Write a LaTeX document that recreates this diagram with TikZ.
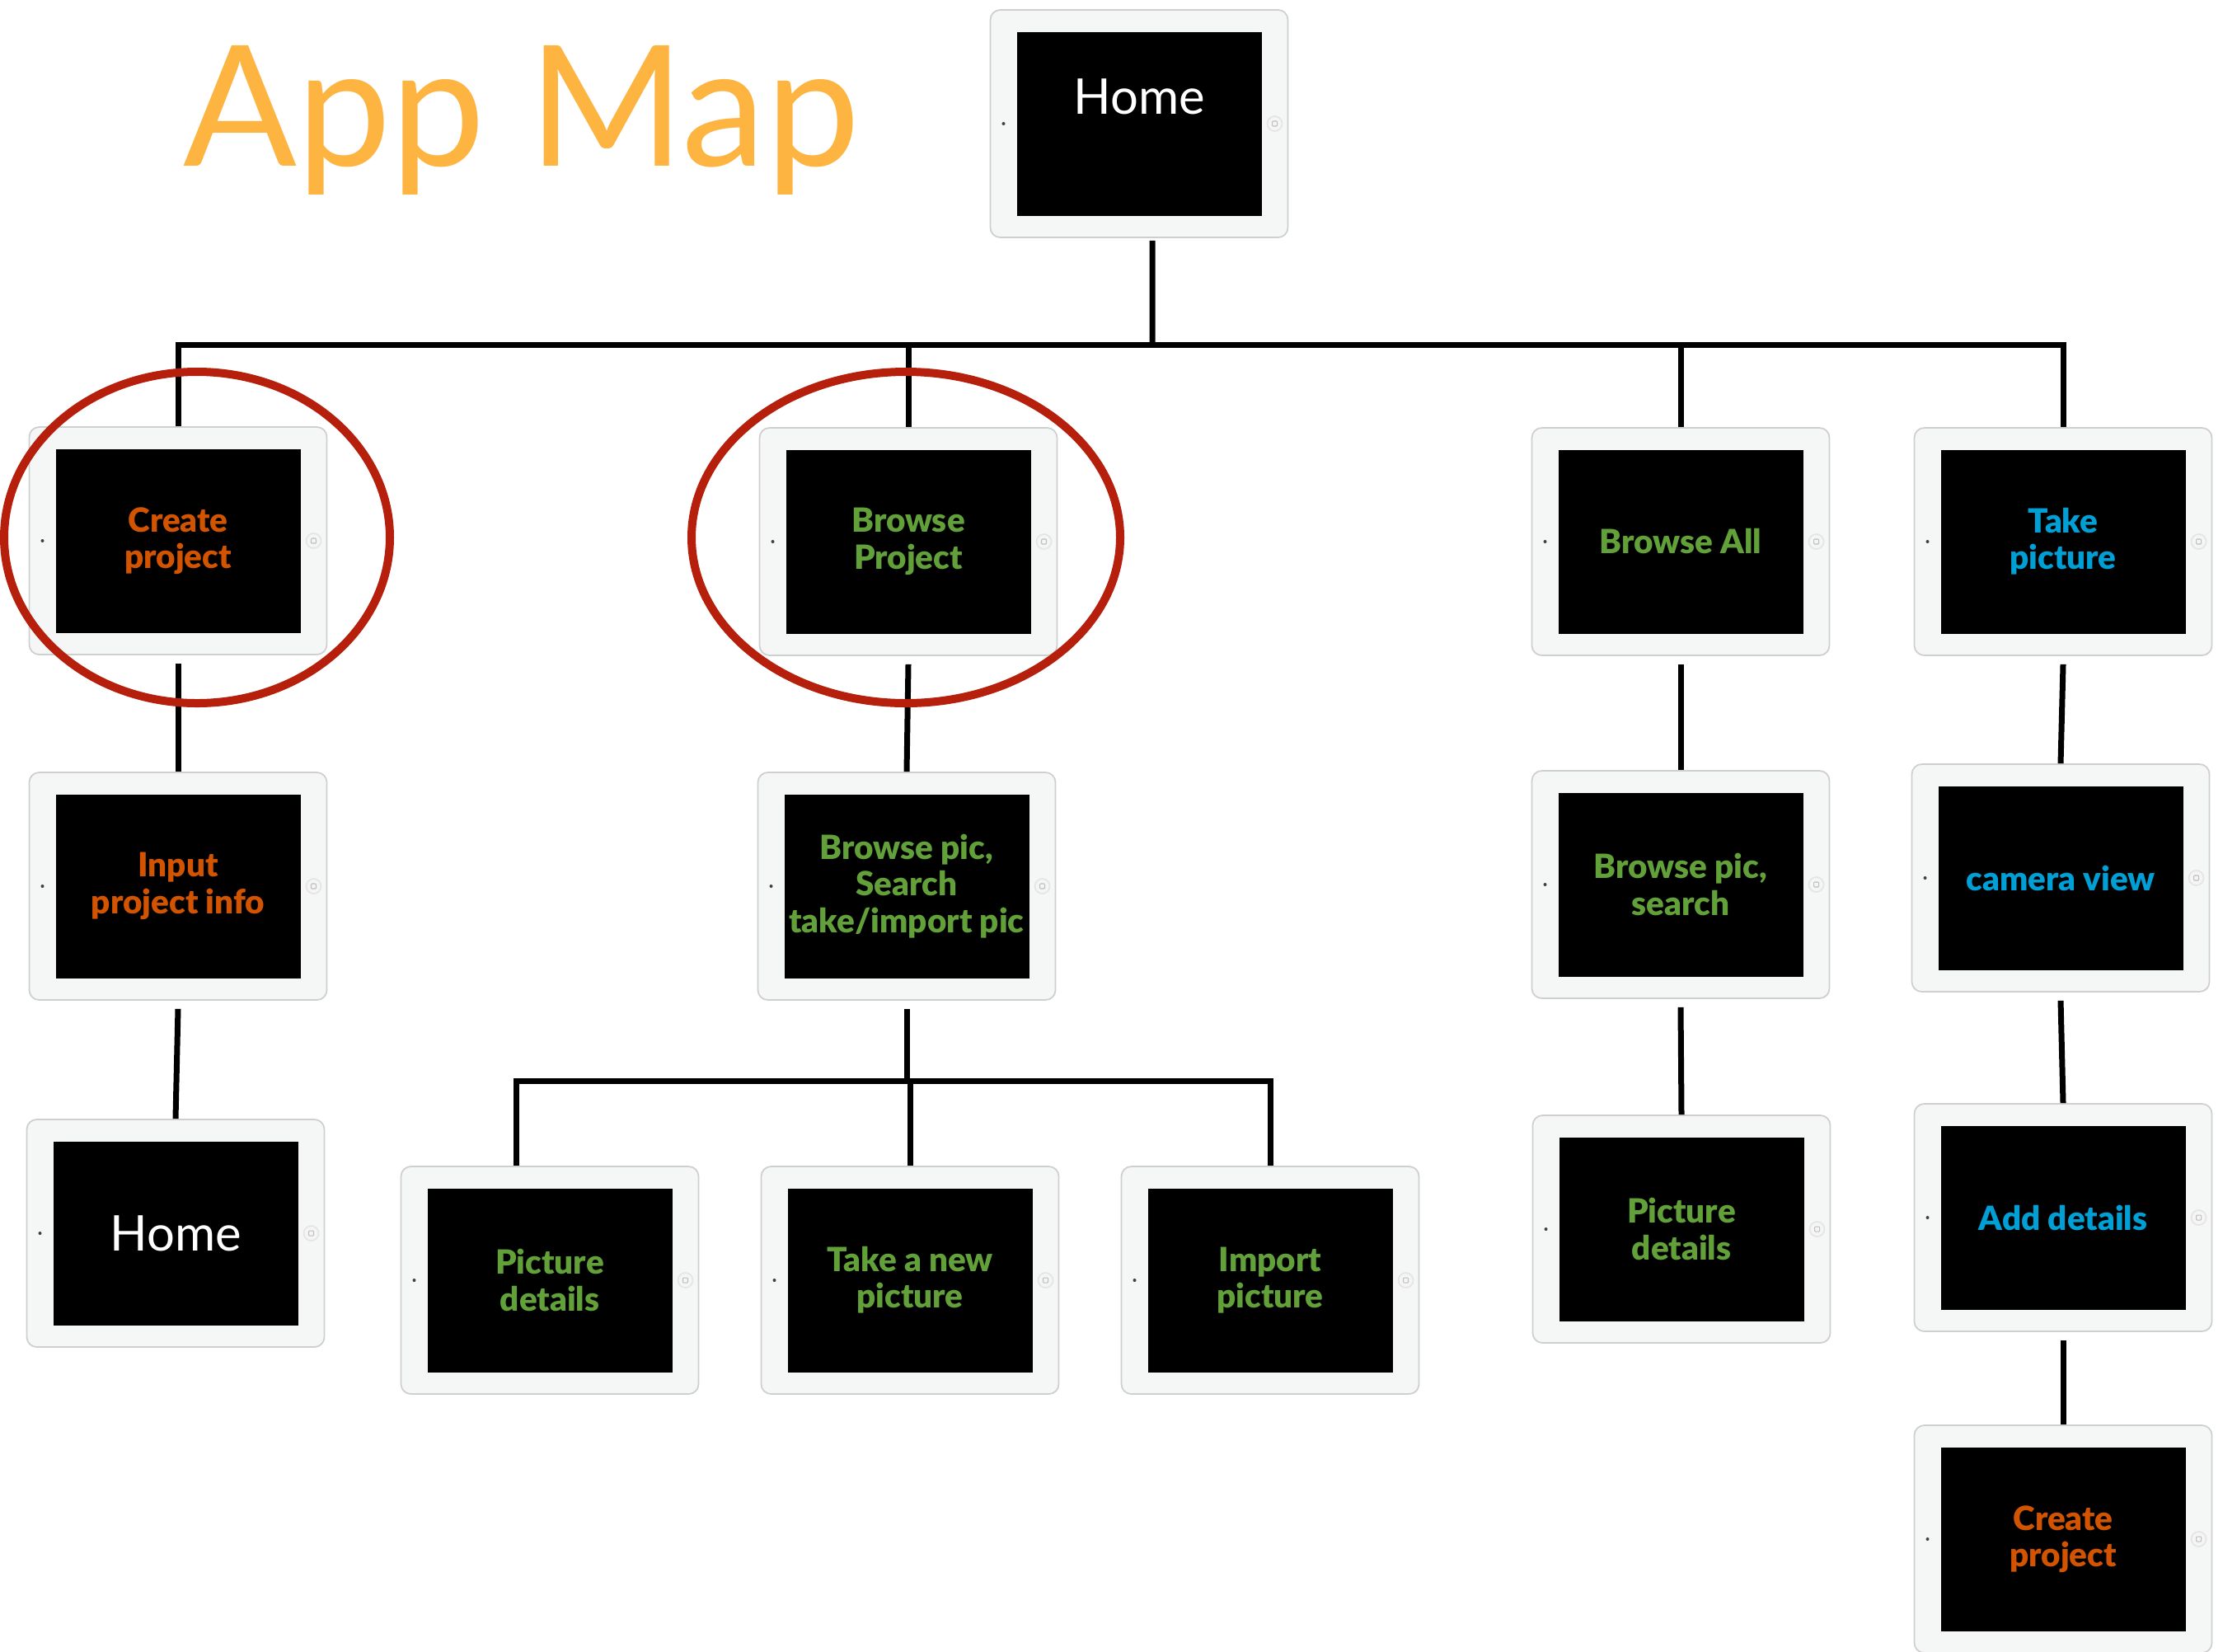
\documentclass[tikz,border=0pt]{standalone}
\usepackage{fontspec}
\setmainfont{Lato}[BoldFont={Lato Black}]
\usetikzlibrary{backgrounds}

\definecolor{frameGrey}{HTML}{F5F6F6}
\definecolor{edgeGrey}{HTML}{CFCFCF}
\definecolor{txtOrange}{HTML}{D35400}
\definecolor{txtGreen}{HTML}{62A03A}
\definecolor{txtBlue}{HTML}{00A0D6}
\definecolor{titleOrange}{HTML}{FDB441}
\definecolor{ringRed}{HTML}{B51F0C}

\tikzset{
  tablet/.style={draw=edgeGrey, line width=0.5pt, fill=frameGrey, rounded corners=0.12cm,
    minimum width=3.61cm, minimum height=2.76cm, inner sep=0pt, align=center,
    font=\bfseries\fontsize{11.5}{12.6}\selectfont,
    path picture={
      \fill[black, sharp corners] ([shift={(0.32,0.265)}]path picture bounding box.south west)
        rectangle ([shift={(-0.32,-0.265)}]path picture bounding box.north east);
      \fill[black!75] ([xshift=0.16cm]path picture bounding box.west) circle (0.02);
      \draw[black!10, fill=black!4] ([xshift=-0.16cm]path picture bounding box.east) circle (0.09);
      \draw[black!25, line width=0.3pt, rounded corners=0.01cm]
        ([shift={(-0.19,-0.03)}]path picture bounding box.east)
        rectangle ([shift={(-0.13,0.03)}]path picture bounding box.east);
    }},
  plan/.style={tablet, text=txtOrange},
  browse/.style={tablet, text=txtGreen},
  shoot/.style={tablet, text=txtBlue},
  homescreen/.style={tablet, text=white, font=\fontsize{17}{20}\selectfont},
  link/.style={line width=0.07cm, black},
  ring/.style={line width=0.1cm, ringRed},
  title/.style={text=titleOrange, font=\fontsize{58}{58}\selectfont, inner sep=0pt, anchor=base west}
}

\begin{document}
\begin{tikzpicture}
  \path[use as bounding box, fill=white] (0,0) rectangle (26.97,-20.03);

  \node[title] (title) at (2.22,-2.01) {App Map};

  % screens
  \node[homescreen, text height=0.44cm, text depth=0.68cm] (home) at (13.82,-1.50) {Home};
  \node[plan] (create) at (2.16,-6.56) {Create\\project};
  \node[browse] (browseproj) at (11.02,-6.57) {Browse\\Project};
  \node[browse] (browseall) at (20.39,-6.57) {Browse All};
  \node[shoot] (takepic) at (25.03,-6.57) {Take\\picture};
  \node[plan] (input) at (2.16,-10.75) {Input\\project info};
  \node[browse] (browsepic) at (11.00,-10.75) {Browse pic,\\Search\\take/import pic};
  \node[browse] (browsesearch) at (20.39,-10.73) {Browse pic,\\search};
  \node[shoot] (camera) at (25.00,-10.65) {camera view};
  \node[homescreen] (home2) at (2.13,-14.96) {Home};
  \node[browse] (picdet) at (6.67,-15.53) {Picture\\details};
  \node[browse] (takenew) at (11.04,-15.53) {Take a new\\picture};
  \node[browse] (import) at (15.41,-15.53) {Import\\picture};
  \node[browse] (picdet2) at (20.40,-14.91) {Picture\\details};
  \node[shoot] (adddet) at (25.03,-14.77) {Add details};
  \node[plan] (create2) at (25.03,-18.67) {Create\\project};

  % reflections and side buttons
  \begin{scope}[on background layer]
    \foreach \n in {home,create,browseproj,browseall,takepic,input,browsepic,browsesearch,
                    camera,home2,picdet,takenew,import,picdet2,adddet,create2} {
      \shade[top color=black!6, bottom color=white]
        ([yshift=-0.05cm]\n.south west) rectangle ([yshift=-0.38cm]\n.south east);
      \draw[black!60, line width=0.6pt] ([yshift=0.9cm]\n.west) -- ([yshift=-0.9cm]\n.west);
    }
  \end{scope}

  % top level
  \coordinate (topbus) at (13.98,-4.18);
  \draw[link] ([xshift=0.16cm,yshift=-0.03cm]home.south) -- (topbus);
  \draw[link] (create.north) |- (topbus) -| (takepic.north);
  \draw[link] (browseproj.north) -- (browseproj.north |- topbus);
  \draw[link] (browseall.north) -- (browseall.north |- topbus);

  % chains
  \foreach \a/\b in {create/input, input/home2, browseproj/browsepic, browseall/browsesearch,
                     browsesearch/picdet2, takepic/camera, camera/adddet, adddet/create2}
    \draw[link] ([yshift=-0.1cm]\a.south) -- (\b.north);

  % picture branch
  \coordinate (lowbus) at (11.00,-13.11);
  \draw[link] ([yshift=-0.1cm]browsepic.south) -- (lowbus);
  \draw[link] ([xshift=-0.41cm]picdet.north) |- (lowbus) -| (import.north);
  \draw[link] (takenew.north) -- (takenew.north |- lowbus);

  % highlights
  \draw[ring] ([shift={(0.23,0.04)}]create.center) ellipse (2.34 and 2.01);
  \draw[ring] ([shift={(-0.03,0.05)}]browseproj.center) ellipse (2.60 and 2.01);
\end{tikzpicture}
\end{document}
